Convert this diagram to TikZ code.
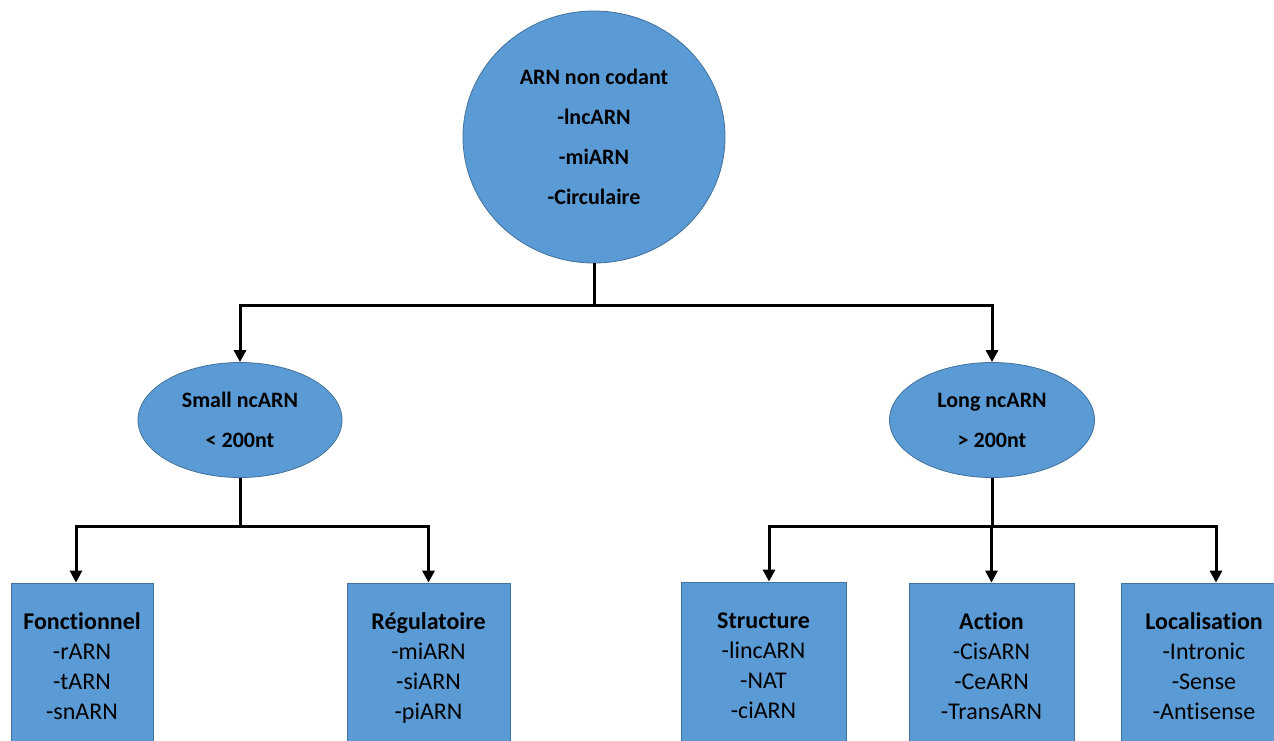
\documentclass[tikz,border=0pt]{standalone}
\usepackage{fontspec}
\setmainfont{Carlito}[Ligatures={NoCommon}]
\usetikzlibrary{shapes.geometric,arrows.meta}
\definecolor{boxfill}{HTML}{5B9BD5}
\definecolor{boxline}{HTML}{41719C}
\newcommand{\topstrut}{\rule{0pt}{24pt}}
\newcommand{\botstrut}{\rule[-8pt]{0pt}{8pt}}
\begin{document}
\begin{tikzpicture}[x=1pt,y=-1pt,
  bubble/.style={ellipse,draw=boxline,fill=boxfill,line width=0.8pt,inner sep=0pt,align=center,
    font=\fontsize{22}{40}\selectfont\bfseries},
  leaf/.style={rectangle,draw=boxline,fill=boxfill,line width=0.8pt,inner sep=0pt,align=center,
    minimum height=166pt,font=\fontsize{24}{30}\selectfont},
  link/.style={line width=3pt,black},
  arr/.style={link,-{Triangle[width=12pt,length=12pt]}}]
\useasboundingbox (0,0) rectangle (1274,740);
\clip (0,0) rectangle (1274,740);
\fill[white] (0,0) rectangle (1274,740);
% nodes
\node[bubble,minimum width=262pt,minimum height=252pt] (root) at (594,137)
  {ARN non codant\\-lncARN\\-miARN\\-Circulaire};
\node[bubble,minimum width=204pt,minimum height=115pt] (small) at (240,420)
  {Small ncARN\\\textless{} 200nt};
\node[bubble,minimum width=205pt,minimum height=115pt] (long) at (992,420)
  {Long ncARN\\\textgreater{} 200nt};
\node[leaf,minimum width=142pt] (fonct) at (82,666)
  {\topstrut\textbf{Fonctionnel}\\-rARN\\-tARN\\-snARN\botstrut};
\node[leaf,minimum width=163pt] (regul) at (428.5,666)
  {\topstrut\textbf{Régulatoire}\\-miARN\\-siARN\\-piARN\botstrut};
\node[leaf,minimum width=165pt] (struct) at (763.5,665)
  {\topstrut\textbf{Structure}\\-lincARN\\-NAT\\-ciARN\botstrut};
\node[leaf,minimum width=165pt] (action) at (991.5,666)
  {\topstrut\textbf{Action}\\-CisARN\\-CeARN\\-TransARN\botstrut};
\node[leaf,minimum width=166pt] (local) at (1204,666)
  {\topstrut\textbf{Localisation}\\-Intronic\\-Sense\\-Antisense\botstrut};
% connectors
\coordinate (busA) at (594,305);
\draw[link] (root.south) -- (busA);
\draw[arr] (busA) -| (small.north);
\draw[arr] (busA) -| (long.north);
\coordinate (busB) at (240,526);
\draw[link] (small.south) -- (busB);
\draw[arr] (busB) -| ([xshift=-6pt]fonct.north);
\draw[arr] (busB) -| (regul.north);
\coordinate (busC) at (992,526);
\draw[link] (long.south) -- (busC);
\draw[arr] (busC) -| ([xshift=5.5pt]struct.north);
\draw[arr] (busC) -| (action.north);
\draw[arr] (busC) -| ([xshift=12pt]local.north);
\end{tikzpicture}
\end{document}
